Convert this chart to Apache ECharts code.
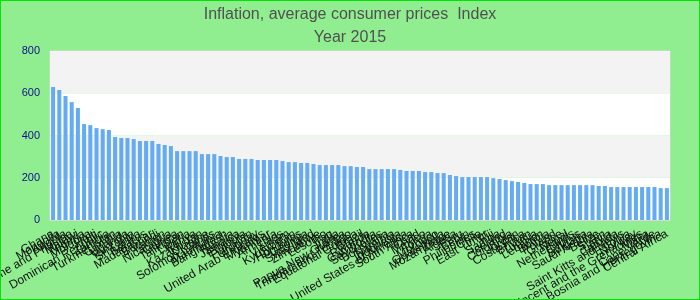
<!DOCTYPE html>
<html>
<head>
<meta charset="utf-8">
<script src="https://cdn.jsdelivr.net/npm/echarts@6/dist/echarts.min.js"></script>
<style>
  body { margin: 0; }
  #chart { width: 698px; height: 298px; border: 1px solid #00e600; }
</style>
</head>
<body>
<div id="chart"></div>
<script>
var countries = [
  "Ghana", "Mongolia", "Angola", "Sao Tome and Principe", "Malawi",
  "Nigeria", "Moldova", "Haiti", "Dominican Republic", "Zambia",
  "Turkmenistan", "Gambia", "Uganda", "Tanzania", "Sri Lanka",
  "Belarus", "Madagascar", "Burundi", "Yemen", "Nicaragua",
  "Guinea", "Tajikistan", "Liberia", "Kenya", "Kazakhstan",
  "Ukraine", "Solomon Islands", "Mauritania", "Bangladesh", "Russia",
  "Jamaica", "Ethiopia", "Pakistan", "Uruguay", "United Arab Emirates",
  "Myanmar", "Armenia", "Laos", "Vietnam", "Kyrgyzstan",
  "Honduras", "Georgia", "Swaziland", "Zimbabwe", "Lesotho",
  "Iraq", "India", "Papua New Guinea", "Trinidad and Tobago", "Equatorial Guinea",
  "Brazil", "Rwanda", "Cambodia", "Seychelles", "Botswana",
  "Namibia", "Indonesia", "United States of America", "South Africa", "Chad",
  "Mexico", "Tonga", "Morocco", "Guatemala", "Mozambique",
  "Algeria", "Peru", "Benin", "Philippines", "Chile",
  "East Timor", "Fiji", "Samoa", "Iceland", "Colombia",
  "Jordan", "Costa Rica", "Bhutan", "Tunisia", "Lebanon",
  "Bolivia", "Poland", "Greece", "Nepal", "Netherlands",
  "Cyprus", "Bulgaria", "Saudi Arabia", "Belize", "Spain",
  "Latvia", "Canada", "Saint Kitts and Nevis", "Estonia", "Norway",
  "Saint Vincent and the Grenadines", "Malta", "Cape Verde", "Bosnia and Herzegovina", "Central Africa"
];

var indexValues = [
  629, 615, 587, 558, 530, 454, 449, 435, 430, 426,
  393, 388, 388, 383, 374, 374, 374, 360, 355, 350,
  326, 326, 326, 326, 312, 312, 312, 303, 298, 298,
  289, 289, 289, 284, 284, 284, 284, 279, 274, 274,
  270, 270, 265, 260, 260, 260, 260, 255, 255, 251,
  251, 241, 241, 241, 241, 241, 237, 232, 232, 232,
  227, 227, 222, 222, 213, 208, 203, 203, 203, 203,
  203, 198, 194, 189, 184, 180, 175, 170, 170, 170,
  165, 165, 165, 165, 165, 165, 165, 165, 161, 161,
  156, 156, 156, 156, 156, 156, 156, 156, 151, 151
];

var yTicks = [0, 200, 400, 600, 800];

var myChart = echarts.init(document.getElementById("chart"));
var fontName = "Liberation Sans, Arial, sans-serif";

var option = {
  backgroundColor: "#90ee90",
  animation: false,
  title: [
    {
      text: "Inflation, average consumer prices  Index",
      left: "center",
      top: 1,
      textStyle: { color: "#505050", fontSize: 16, fontWeight: "normal", fontFamily: fontName }
    },
    {
      text: "Year 2015",
      left: "center",
      top: 24,
      textStyle: { color: "#505050", fontSize: 16, fontWeight: "normal", fontFamily: fontName }
    }
  ],
  grid: {
    left: 49,
    right: 29,
    top: 50,
    bottom: 79,
    containLabel: false,
    outerBoundsMode: "none",
    show: true,
    borderColor: "#d8d8d8",
    borderWidth: 1
  },
  xAxis: {
    type: "category",
    data: countries,
    axisTick: { show: false },
    axisLine: { lineStyle: { color: "#d8d8d8" } },
    axisLabel: {
      interval: 0,
      rotate: 30,
      margin: 13,
      fontSize: 12,
      color: "#111",
      fontFamily: fontName
    }
  },
  yAxis: {
    type: "value",
    min: yTicks[0],
    max: yTicks[yTicks.length - 1],
    interval: 200,
    axisLine: { show: false },
    axisTick: { show: false },
    splitLine: { show: false },
    splitArea: { show: true, areaStyle: { color: ["#ffffff", "#f3f3f3"] } },
    axisLabel: { color: "#10108a", fontSize: 11, fontFamily: fontName, margin: 10 }
  },
  series: [
    {
      type: "bar",
      data: indexValues,
      barWidth: "65%",
      itemStyle: { color: "#64abf2" }
    }
  ]
};

myChart.setOption(option);
</script>
</body>
</html>
